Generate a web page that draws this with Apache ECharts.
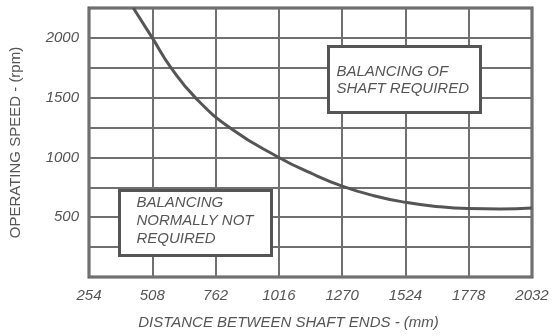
<!DOCTYPE html>
<html>
<head>
<meta charset="utf-8">
<script src="https://cdn.jsdelivr.net/npm/echarts@6/dist/echarts.min.js"></script>
<style>
  html, body { margin: 0; padding: 0; background: #fff; }
  #chart { width: 556px; height: 336px; }
</style>
</head>
<body>
<div id="chart"></div>
<script>
// shaft length (mm) vs. max speed before balancing (rpm)
const distanceMm = [432, 508, 585, 681, 825, 1016, 1143, 1270, 1397, 1524, 1651, 1778, 1905, 2032];
const speedRpm   = [2250, 2000, 1745, 1500, 1240, 1000, 870, 760, 680, 625, 590, 572, 568, 577];
const xTicks = [254, 508, 762, 1016, 1270, 1524, 1778, 2032];
const yLabels = [500, 1000, 1500, 2000];

const ink = '#555';
const font = 'Liberation Sans';
const tickStyle = { color: ink, fontSize: 15, fontStyle: 'italic', fontFamily: font };

const chart = echarts.init(document.getElementById('chart'));

chart.setOption({
  animation: false,
  grid: {
    left: 87, right: 24, top: 8, bottom: 59,
    show: true,
    borderColor: ink,
    borderWidth: 3,
    backgroundColor: 'transparent'
  },
  xAxis: {
    type: 'value',
    min: xTicks[0],
    max: xTicks[xTicks.length - 1],
    interval: 254,
    name: 'DISTANCE BETWEEN SHAFT ENDS - (mm)',
    nameLocation: 'middle',
    nameGap: 38,
    nameTextStyle: {
      color: ink, fontSize: 15, fontStyle: 'italic', fontFamily: font,
      padding: [0, 44, 0, 0]
    },
    axisLine: { show: false },
    axisTick: { show: false },
    axisLabel: {
      ...tickStyle,
      margin: 11, showMinLabel: true, showMaxLabel: true,
      formatter: v => '{i|' + v + '}',
      rich: { i: tickStyle }
    },
    splitLine: { lineStyle: { color: '#707070', width: 2 } }
  },
  yAxis: {
    type: 'value',
    min: 0,
    max: 2250,
    interval: 250,
    name: 'OPERATING SPEED - (rpm)',
    nameLocation: 'middle',
    nameGap: 66,
    nameTextStyle: { color: ink, fontSize: 15, fontFamily: font },
    axisLine: { show: false },
    axisTick: { show: false },
    axisLabel: {
      ...tickStyle,
      margin: 10,
      formatter: v => yLabels.includes(v) ? '{i|' + v + '}' : '',
      rich: { i: tickStyle }
    },
    splitLine: { lineStyle: { color: '#707070', width: 2 } }
  },
  series: [{
    type: 'line',
    data: distanceMm.map((d, i) => [d, speedRpm[i]]),
    smooth: 0.5,
    showSymbol: false,
    lineStyle: { color: ink, width: 3 }
  }],
  graphic: [
    {
      type: 'group', left: 327, top: 45, z: 100,
      children: [
        { type: 'rect', z: 100, shape: { x: 0, y: 0, width: 152, height: 66 },
          style: { fill: '#fff', stroke: ink, lineWidth: 3 } },
        { type: 'text', z: 101, x: 8, y: 17,
          style: { text: 'BALANCING OF\nSHAFT REQUIRED', fill: ink, fontSize: 15,
                   fontStyle: 'italic', fontFamily: font, lineHeight: 17 } }
      ]
    },
    {
      type: 'group', left: 118, top: 189, z: 100,
      children: [
        { type: 'rect', z: 100, shape: { x: 0, y: 0, width: 152, height: 65 },
          style: { fill: '#fff', stroke: ink, lineWidth: 3 } },
        { type: 'text', z: 101, x: 17, y: 3,
          style: { text: 'BALANCING\nNORMALLY NOT\nREQUIRED', fill: ink, fontSize: 15,
                   fontStyle: 'italic', fontFamily: font, lineHeight: 18 } }
      ]
    }
  ]
});
</script>
</body>
</html>
